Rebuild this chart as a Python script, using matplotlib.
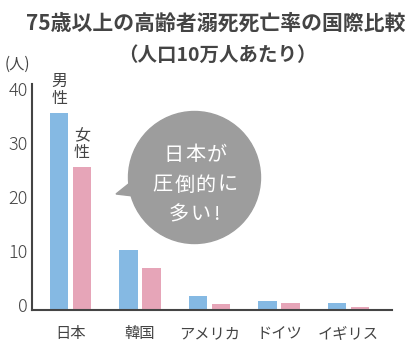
import matplotlib.pyplot as plt
import matplotlib.transforms as mtransforms
from matplotlib.patches import Ellipse, Polygon

plt.rcParams['font.family'] = ['Noto Sans CJK JP', 'DejaVu Sans']

countries = ['日本', '韓国', 'アメリカ', 'ドイツ', 'イギリス']
male = [36.5, 11.1, 2.6, 1.7, 1.3]
female = [26.5, 7.8, 1.1, 1.3, 0.5]
yticks = [0, 10, 20, 30, 40]
bubble_lines = ['日本が', '圧倒的に', '多い!']

W, H = 416, 352
fig = plt.figure(figsize=(W / 100, H / 100), dpi=100)
ax = fig.add_axes([32 / W, (H - 310) / H, (392 - 32) / W, (310 - 84) / H])

x = list(range(len(countries)))
bw = 0.266
off = 0.163
ax.bar([i - off for i in x], male, width=bw, color='#85b9e3')
ax.bar([i + off for i in x], female, width=bw, color='#e6a5b8')

ax.set_xlim(-0.554, 4.626)
ax.set_ylim(0, 41.85)
for s in ['top', 'right']:
    ax.spines[s].set_visible(False)
for s in ['left', 'bottom']:
    ax.spines[s].set_color('#444444')
    ax.spines[s].set_linewidth(1.5)

ax.set_xticks(x)
ax.set_xticklabels(countries, fontsize=11, color='#444444')
ax.set_yticks(yticks)
ax.set_yticklabels([str(v) for v in yticks], fontsize=13, color='#444444',
                   fontweight='light')
ax.tick_params(length=0)
ax.tick_params(axis='x', pad=11)
ax.tick_params(axis='y', pad=3)
shift = mtransforms.ScaledTranslation(0, 5 / 100, fig.dpi_scale_trans)
for lab in ax.get_yticklabels():
    lab.set_transform(lab.get_transform() + shift)

# labels above Japan bars
ax.text(-off, male[0] + 1.0, '男\n性', ha='center', va='bottom', fontsize=11.5,
        color='#444444', linespacing=1.05)
ax.text(off, female[0] + 1.0, '女\n性', ha='center', va='bottom', fontsize=11.5,
        color='#444444', linespacing=1.05)

def fx(px):
    return px / W

def fy(py):
    return (H - py) / H

fig.text(fx(216), fy(23), '75歳以上の高齢者溺死死亡率の国際比較', ha='center', va='center',
         fontsize=15, fontweight='bold', color='#444444')
fig.text(fx(217), fy(55), '（人口10万人あたり）', ha='center', va='center',
         fontsize=14, fontweight='bold', color='#444444')
fig.text(fx(17), fy(64), '(人)', ha='center', va='center', fontsize=11,
         color='#444444')

# speech bubble
gray = '#9d9d9d'
fig.patches.append(Ellipse((fx(194.5), fy(177.5)), 2 * 66 / W, 2 * 66 / H,
                           transform=fig.transFigure, color=gray, zorder=5))
fig.patches.append(Polygon([(fx(116), fy(194)), (fx(136), fy(178)), (fx(142), fy(197))],
                           closed=True, transform=fig.transFigure, color=gray, zorder=5))
# letter-spaced text, one glyph at a time (ascii glyphs take half a step)
step = 21.5
for txt, py in zip(bubble_lines, [155, 185, 215]):
    widths = [0.5 if ch.isascii() else 1.0 for ch in txt]
    total = sum(widths) * step
    left = 195 - total / 2
    for ch, w in zip(txt, widths):
        fig.text(fx(left + w * step / 2), fy(py), ch, ha='center', va='center',
                 fontsize=14.5, color='white', zorder=6)
        left += w * step

fig.savefig('out.png', dpi=100)
